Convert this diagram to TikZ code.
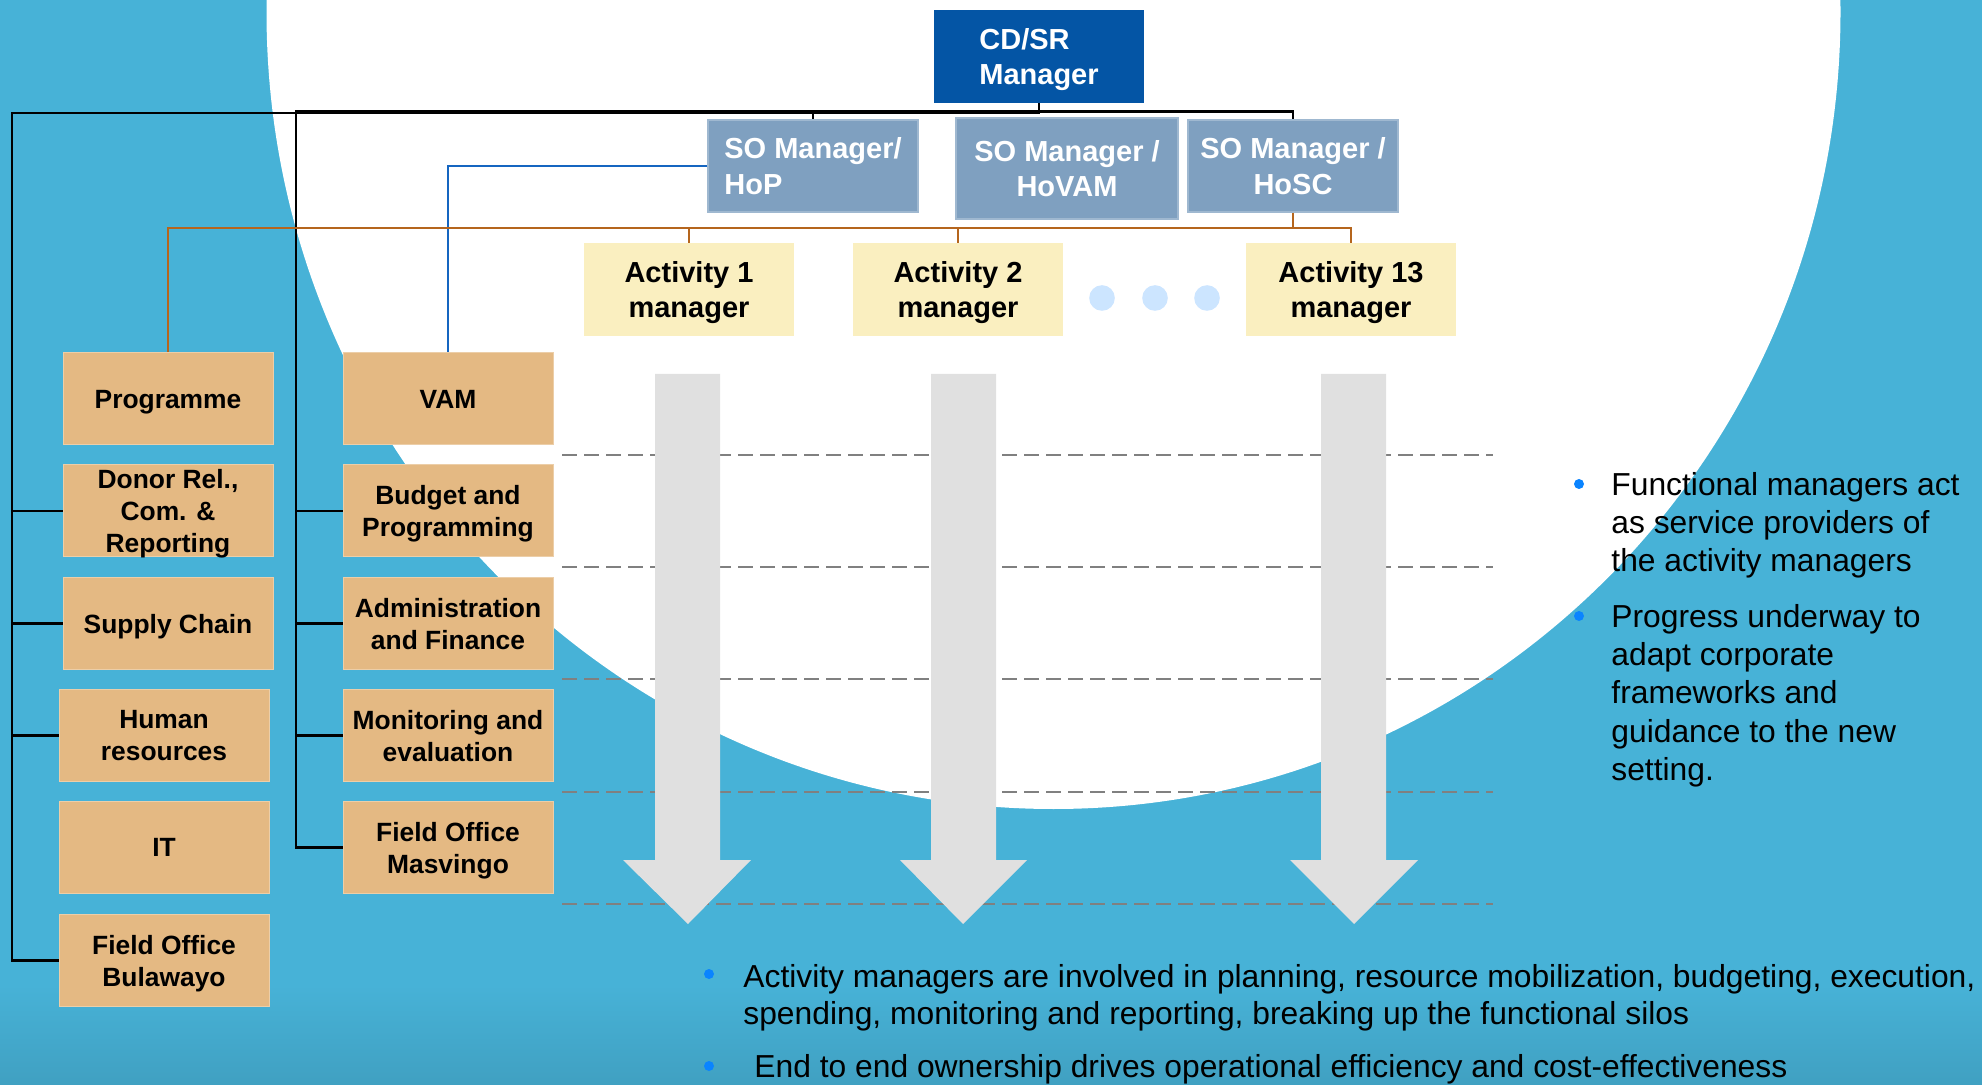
\documentclass[tikz,border=0pt]{standalone}
\usepackage{fontspec}
\setmainfont{Liberation Sans}
\definecolor{bgblue}{RGB}{71,178,215}
\definecolor{cdblue}{RGB}{4,85,165}
\definecolor{soblue}{RGB}{127,160,192}
\definecolor{creamfill}{RGB}{250,239,192}
\definecolor{tanfill}{RGB}{228,185,131}
\definecolor{linebrown}{RGB}{181,101,29}
\definecolor{lineblue}{RGB}{21,101,192}
\definecolor{arrowgray}{RGB}{224,224,224}
\definecolor{dashgray}{RGB}{128,128,128}
\definecolor{bulletblue}{RGB}{10,132,255}
\definecolor{dotblue}{RGB}{204,229,255}
\begin{document}
\begin{tikzpicture}[x=0.5pt,y=-0.5pt,
  cdbox/.style={fill=cdblue, text=white, font=\bfseries\fontsize{14.5}{17.75}\selectfont, minimum width=105pt, minimum height=46.5pt, inner sep=0pt, align=left, text depth=0pt},
  sobox/.style={fill=soblue, draw=soblue!75!white, line width=0.6pt, text=white, font=\bfseries\fontsize{14.5}{17.75}\selectfont, minimum width=105pt, minimum height=46pt, inner sep=0pt, align=center, text depth=0pt},
  actbox/.style={fill=creamfill, text=black, font=\bfseries\fontsize{14.5}{17.6}\selectfont, minimum width=105pt, minimum height=46.5pt, inner sep=0pt, align=center, text depth=0pt},
  funcbox/.style={fill=tanfill, draw=tanfill!70!white, line width=0.5pt, text=black, font=\bfseries\fontsize{13.2}{16}\selectfont, minimum width=105pt, minimum height=46pt, inner sep=0pt, align=center, text depth=0pt},
  bodyline/.style={anchor=base west, inner sep=0pt, font=\fontsize{15.9}{18.8}\selectfont, text=black},
  blk/.style={draw=black, line width=1.25pt},
  brn/.style={draw=linebrown, line width=1pt},
  blu/.style={draw=lineblue, line width=1pt},
  dashline/.style={draw=dashgray, line width=1pt, dash pattern=on 7.5pt off 3.5pt},
  bigarrow/.style={fill=arrowgray},
  bulletdot/.style={fill=bulletblue},
  ellipsisdot/.style={fill=dotblue},
]
\useasboundingbox (0,0) rectangle (1982,1085);
% background
\fill[bgblue] (0,0) rectangle (1982,1085);
\shade[top color=bgblue, bottom color=bgblue!90!black] (0,985) rectangle (1982,1085);
\begin{scope}
  \clip (0,0) rectangle (1982,1085);
  \fill[white] (1053.5,12) ellipse [x radius=393.5pt, y radius=398.5pt];
\end{scope}

% dashed guide lines
\foreach \yy in {455,567,679,792,904}
  \draw[dashline] (562,\yy) -- (1493,\yy);

% big downward arrows
\fill[bigarrow] (655,374) -- (720,374) -- (720,860) -- (751,860) -- (688,924) -- (623,860) -- (655,860) -- cycle;
\fill[bigarrow] (931,374) -- (996,374) -- (996,860) -- (1027,860) -- (963,924) -- (900,860) -- (931,860) -- cycle;
\fill[bigarrow] (1321,374) -- (1386,374) -- (1386,860) -- (1418,860) -- (1354,924) -- (1290,860) -- (1321,860) -- cycle;

% top hierarchy
\node[cdbox] (cd) at (1039,56.5) {CD/SR\\Manager};
\node[sobox, align=left] (so1) at (813,166) {SO Manager/\\HoP};
\node[sobox, minimum width=111pt, minimum height=50.5pt] (so2) at (1067,168.5) {SO Manager /\\HoVAM};
\node[sobox] (so3) at (1293,166) {SO Manager /\\HoSC};

\node[actbox] (a1) at (689,289.5) {Activity 1\\manager};
\node[actbox] (a2) at (958,289.5) {Activity 2\\manager};
\node[actbox] (a13) at (1351,289.5) {Activity 13\\manager};

\fill[ellipsisdot] (1102,298) circle [radius=6.4pt];
\fill[ellipsisdot] (1155,298) circle [radius=6.4pt];
\fill[ellipsisdot] (1207,298) circle [radius=6.4pt];

% functional boxes
\node[funcbox] (prog) at (168,399) {Programme};
\node[funcbox] (donor) at (168,511) {Donor Rel.,\\Com. \&\\Reporting};
\node[funcbox] (supply) at (168,623.5) {Supply Chain};
\node[funcbox] (hr) at (164,735.5) {Human\\resources};
\node[funcbox] (it) at (164,847.5) {IT};
\node[funcbox] (fob) at (164,960.5) {Field Office\\Bulawayo};

\node[funcbox] (vam) at (448,399) {VAM};
\node[funcbox] (budget) at (448,511) {Budget and\\Programming};
\node[funcbox] (admin) at (448,623.5) {Administration\\and Finance};
\node[funcbox] (me) at (448,735.5) {Monitoring and\\evaluation};
\node[funcbox] (fom) at (448,847.5) {Field Office\\Masvingo};

% black connectors
\coordinate (busL) at (12,113);
\coordinate (busR) at (296,111.5);
\coordinate (cdb) at (1039,111.5);
\draw[blk] (cd.south) |- (busL) |- (fob.west);
\draw[blk] (busL) |- (donor.west);
\draw[blk] (busL) |- (supply.west);
\draw[blk] (busL) |- (hr.west);
\draw[blk] (cd.south) -- (cdb) -- (busR) |- (fom.west);
\draw[blk] (busR) |- (budget.west);
\draw[blk] (busR) |- (admin.west);
\draw[blk] (busR) |- (me.west);
\draw[blk] (cdb) -| (so1.north);
\draw[blk] (cdb) -| (so3.north);

% blue connector
\draw[blu] (so1.west) -| (vam.north);

% brown connectors
\coordinate (ob) at (1293,228);
\draw[brn] (so3.south) -- (ob) -| (a13.north);
\draw[brn] (ob) -| (a2.north);
\draw[brn] (ob) -| (a1.north);
\draw[brn] (ob) -| (prog.north);

% right bullets
\fill[bulletdot] (1579,484) circle [radius=2.5pt];
\fill[bulletdot] (1579,616) circle [radius=2.5pt];
\node[bodyline] (r1) at (1611,496) {Functional managers act};
\node[bodyline] (r2) at (1611,534) {as service providers of};
\node[bodyline] (r3) at (1611,572) {the activity managers};
\node[bodyline] (r4) at (1611,627.5) {Progress underway to};
\node[bodyline] (r5) at (1611,665.7) {adapt corporate};
\node[bodyline] (r6) at (1611,703.9) {frameworks and};
\node[bodyline] (r7) at (1611,742.1) {guidance to the new};
\node[bodyline] (r8) at (1611,780.3) {setting.};

% bottom bullets
\fill[bulletdot] (709,974) circle [radius=2.5pt];
\fill[bulletdot] (709,1066) circle [radius=2.5pt];
\node[bodyline] (b1) at (743,987) {Activity managers are involved in planning, resource mobilization, budgeting, execution,};
\node[bodyline] (b2) at (743,1024.5) {spending, monitoring and reporting, breaking up the functional silos};
\node[bodyline] (b3) at (754,1077) {End to end ownership drives operational efficiency and cost-effectiveness};
\end{tikzpicture}
\end{document}
